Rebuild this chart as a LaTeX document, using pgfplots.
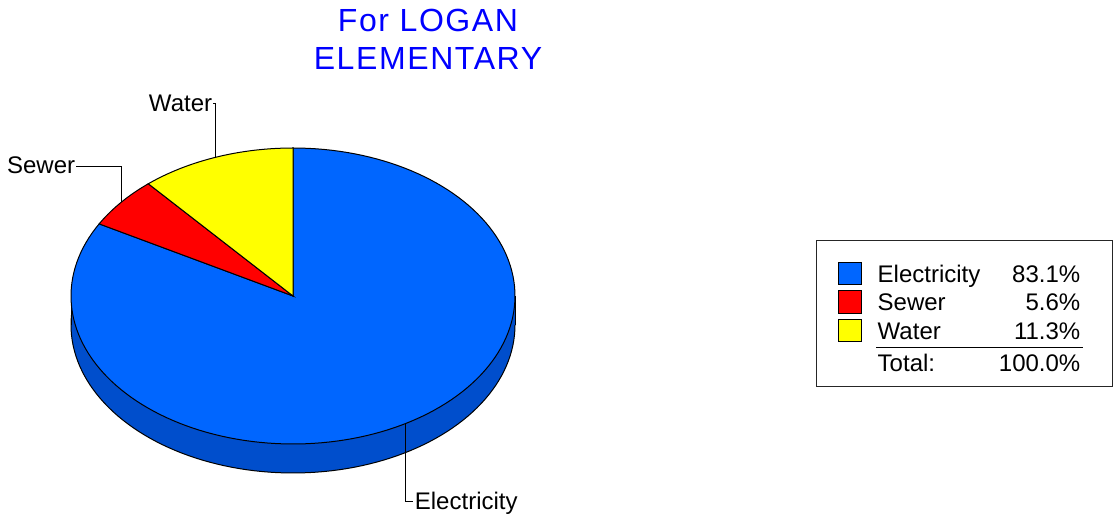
\documentclass[border=0pt]{standalone}
\usepackage{pgfplots}
\pgfplotsset{compat=1.18}
\usepackage{pgfplotstable}
\usepackage{fontspec}
\setmainfont{Liberation Sans}
\newfontfamily\titlefont[LetterSpace=5.0]{Liberation Sans}
\definecolor{pieblue}{RGB}{0,102,255}
\definecolor{sideblue}{RGB}{0,78,204}
\definecolor{piered}{RGB}{255,0,0}
\definecolor{pieyellow}{RGB}{255,255,0}
\definecolor{titleblue}{RGB}{0,0,255}
\newcommand\lbl{\fontsize{12}{14}\selectfont}
\newcommand\ttl{\titlefont\fontsize{16}{19}\selectfont}

\pgfplotstableread{
name value
Electricity 83.1
Sewer 5.6
Water 11.3
}\piedata

\begin{document}
\begin{tikzpicture}
\pgfplotstablegetelem{0}{value}\of\piedata \let\vE\pgfplotsretval
\pgfplotstablegetelem{1}{value}\of\piedata \let\vS\pgfplotsretval
\pgfplotstablegetelem{2}{value}\of\piedata \let\vW\pgfplotsretval
\pgfmathsetmacro\aW{90+3.6*\vW}
\pgfmathsetmacro\aS{\aW+3.6*\vS}
\pgfmathsetmacro\aE{\aS+3.6*\vE}
\pgfmathsetmacro\mW{(90+\aW)/2}
\pgfmathsetmacro\mS{(\aW+\aS)/2}
\pgfmathsetmacro\mE{(\aS+\aE)/2}
\pgfmathsetmacro\wx{293+222*cos(\mW)}\pgfmathsetmacro\wy{222+148*sin(\mW)}
\pgfmathsetmacro\sx{293+222*cos(\mS)}\pgfmathsetmacro\sy{222+148*sin(\mS)}
\pgfmathsetmacro\ex{293+222*cos(\mE)}\pgfmathsetmacro\ey{222+148*sin(\mE)}
\begin{axis}[
  scale only axis, width=558.5pt, height=259pt,
  xmin=0, xmax=1117, ymin=0, ymax=518,
  hide axis, clip=false, no markers,
  legend style={at={(0.73116,0.53475)}, anchor=north west,
    draw=black!85, line width=0.5pt, fill=white,
    inner xsep=0pt, inner ysep=4.5pt, outer sep=0pt,
    font=\lbl, cells={anchor=center},
    nodes={inner sep=0pt, text height=11.45pt, text depth=2.85pt},
    /tikz/every even column/.style={column sep=0pt},
    /tikz/every odd column/.style={column sep=0pt}},
]
% fix the picture's extent to the full frame
\path (axis cs:0,0) rectangle (axis cs:1117,518);
% side of the pie
\addplot[forget plot, fill=sideblue, draw=black, line width=0.5pt, domain=0:360, samples=181, variable=\t]
  ({293+222*cos(\t)},{193+148*sin(\t)}) -- cycle;
\addplot[forget plot, fill=sideblue, draw=none] coordinates {(71,193) (515,193) (515,222) (71,222)} -- cycle;
\addplot[forget plot, black, line width=0.5pt] coordinates {(71,193) (71,222)};
\addplot[forget plot, black, line width=0.5pt] coordinates {(515,193) (515,222)};
% top slices
\addplot[forget plot, fill=pieblue, draw=black, line width=0.5pt, domain=\aS:\aE, samples=150, variable=\t]
  ({293+222*cos(\t)},{222+148*sin(\t)}) -- (axis cs:293,222) -- cycle;
\addplot[forget plot, fill=piered, draw=black, line width=0.5pt, domain=\aW:\aS, samples=20, variable=\t]
  ({293+222*cos(\t)},{222+148*sin(\t)}) -- (axis cs:293,222) -- cycle;
\addplot[forget plot, fill=pieyellow, draw=black, line width=0.5pt, domain=90:\aW, samples=30, variable=\t]
  ({293+222*cos(\t)},{222+148*sin(\t)}) -- (axis cs:293,222) -- cycle;
% leader lines
\draw[line width=0.5pt] (axis cs:\wx,\wy) -- (axis cs:\wx,414.5) -- (axis cs:213,414.5);
\draw[line width=0.5pt] (axis cs:\sx,\sy) -- (axis cs:\sx,351.3) -- (axis cs:76,351.3);
\draw[line width=0.5pt] (axis cs:\ex,\ey) -- (axis cs:\ex,16) -- (axis cs:413,16);
\node[anchor=base east, inner sep=0pt, font=\lbl] at (axis cs:212.5,406) {Water};
\node[anchor=base east, inner sep=0pt, font=\lbl] at (axis cs:75.5,344) {Sewer};
\node[anchor=base west, inner sep=0pt, font=\lbl] at (axis cs:414.5,8) {Electricity};
% title
\node[anchor=base, inner sep=0pt, font=\ttl, text=titleblue] at (axis cs:428,486) {For LOGAN};
\node[anchor=base, inner sep=0pt, font=\ttl, text=titleblue] at (axis cs:428,448) {ELEMENTARY};
% legend
\addlegendimage{legend image code/.code={\path (0pt,11.55pt) (30pt,-5.6pt); \draw[fill=pieblue, line width=0.5pt] (10.8pt,-5.6pt) rectangle (22pt,5.6pt);}}
\addlegendentry{\makebox[117.5pt][l]{\makebox[101.3pt][l]{Electricity\hfill 83.1\%}}}
\addlegendimage{legend image code/.code={\path (0pt,0pt) (30pt,0pt); \draw[fill=piered, line width=0.5pt] (10.8pt,-5.6pt) rectangle (22pt,5.6pt);}}
\addlegendentry{\makebox[117.5pt][l]{\makebox[101.3pt][l]{Sewer\hfill 5.6\%}}}
\addlegendimage{legend image code/.code={\path (0pt,0pt) (30pt,0pt); \draw[fill=pieyellow, line width=0.5pt] (10.8pt,-5.6pt) rectangle (22pt,5.6pt);}}
\addlegendentry{\makebox[117.5pt][l]{\makebox[101.3pt][l]{Water\hfill 11.3\%}}}
\addlegendimage{legend image code/.code={\path (0pt,8.85pt) (30pt,0pt);}}
\addlegendentry{\makebox[117.5pt][l]{\rlap{\hspace*{-0.85pt}\smash{\raisebox{12pt}{\rule{103.35pt}{0.5pt}}}}\makebox[101.3pt][l]{Total:\hfill 100.0\%}}}
\end{axis}
\end{tikzpicture}
\end{document}
